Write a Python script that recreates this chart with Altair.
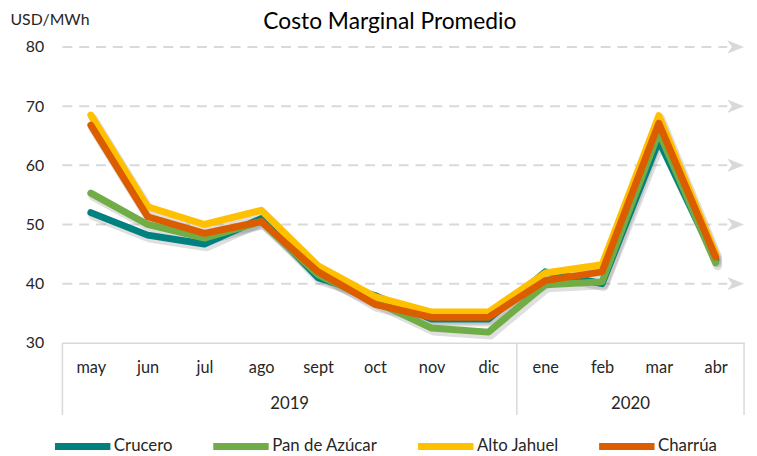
import json
import altair as alt
import pandas as pd

# ---- data ----
months = ["may", "jun", "jul", "ago", "sept", "oct", "nov", "dic", "ene", "feb", "mar", "abr"]
years = ["2019"] * 8 + ["2020"] * 4
series = ["Crucero", "Pan de Azúcar", "Alto Jahuel", "Charrúa"]
colors = ["#00807F", "#70AD47", "#FFC000", "#DC5C00"]

crucero = [52.0, 48.2, 46.7, 51.0, 41.0, 38.0, 34.0, 34.0, 42.0, 40.0, 64.2, 44.0]
pan_de_azucar = [55.3, 50.0, 47.7, 50.5, 41.5, 37.0, 32.5, 31.8, 39.8, 40.3, 65.6, 43.5]
alto_jahuel = [68.5, 53.0, 50.0, 52.4, 43.0, 37.8, 35.2, 35.2, 41.8, 43.2, 68.4, 45.0]
charrua = [66.8, 51.3, 48.5, 50.5, 42.0, 36.5, 34.3, 34.3, 40.5, 42.0, 67.1, 44.5]

y_ticks = [30, 40, 50, 60, 70, 80]
grid_vals = [40, 50, 60, 70, 80]

title_text = "Costo Marginal Promedio"
y_unit = "USD/MWh"

# ---- tables ----
values = {"Crucero": crucero, "Pan de Azúcar": pan_de_azucar,
          "Alto Jahuel": alto_jahuel, "Charrúa": charrua}
rows = []
for s in series:
    for i, m in enumerate(months):
        rows.append({"serie": s, "month": m, "idx": i, "year": years[i], "value": values[s][i]})
df = pd.DataFrame(rows)
mdf = pd.DataFrame({"month": months, "idx": list(range(len(months))), "year": years})
gdf = pd.DataFrame({"v": grid_vals})

FONT = "Lato"
TXT = "#262626"
GRID = "#D9D9D9"
W, H = 689, 299

xscale = alt.Scale(domain=[-0.5, len(months) - 0.5], nice=False, zero=False)
yscale = alt.Scale(domain=[y_ticks[0], y_ticks[-1]], nice=False, zero=False)

xaxis = alt.Axis(values=list(range(len(months))),
                 labelExpr=f"{json.dumps(months)}[datum.value]",
                 grid=False, ticks=False, tickSize=0, domainColor=GRID, domainWidth=1.5,
                 labelPadding=25, labelBaseline="middle", labelFontSize=16.5,
                 labelColor=TXT, labelFont=FONT, title=None, labelFlush=False,
                 labelOverlap=False)
yaxis = alt.Axis(values=y_ticks, grid=False, ticks=False, tickSize=0, domain=False,
                 labelPadding=19, labelFontSize=16, labelColor=TXT, labelFont=FONT,
                 title=y_unit, titleAngle=0, titleAlign="left", titleBaseline="middle",
                 titleX=-53, titleY=-28, titleFontSize=16, titleFontWeight="normal",
                 titleColor=TXT, titleFont=FONT)

grid = alt.Chart(gdf).mark_rule(color=GRID, strokeWidth=2, strokeDash=[10, 7]).encode(
    y=alt.Y("v:Q", scale=yscale, axis=yaxis),
    x=alt.value(0), x2=alt.value(W - 17))

arrow_path = "M 1 0 L -1 -0.8 L -0.45 0 L -1 0.8 Z"
arrows = alt.Chart(gdf).mark_point(shape=arrow_path, filled=True, size=289,
                                   color=GRID, opacity=1).encode(
    y=alt.Y("v:Q", scale=yscale, axis=yaxis), x=alt.value(W - 8.5))

# separators at the start of each year group and at the end of the last one
seps_start = alt.Chart(mdf).transform_aggregate(
    lo="min(idx)", groupby=["year"]
).transform_calculate(edge="datum.lo - 0.5").mark_rule(color=GRID, strokeWidth=1.5).encode(
    x=alt.X("edge:Q", scale=xscale, axis=xaxis),
    y=alt.value(H), y2=alt.value(H + 73))
seps_end = alt.Chart(mdf).transform_aggregate(
    hi="max(idx)"
).transform_calculate(edge="datum.hi + 0.5").mark_rule(color=GRID, strokeWidth=1.5).encode(
    x=alt.X("edge:Q", scale=xscale, axis=xaxis),
    y=alt.value(H), y2=alt.value(H + 73))

year_labels = alt.Chart(mdf).transform_aggregate(
    mid="mean(idx)", groupby=["year"]).mark_text(
    fontSize=17, font=FONT, color=TXT, baseline="middle").encode(
    x=alt.X("mid:Q", scale=xscale, axis=xaxis), y=alt.value(H + 62), text="year:N")

shadow = alt.Chart(df).mark_line(strokeWidth=9, color="#6e6e6e", opacity=0.22,
                                 xOffset=2, yOffset=3, strokeCap="round",
                                 strokeJoin="round").encode(
    x=alt.X("idx:Q", scale=xscale, axis=xaxis),
    y=alt.Y("value:Q", scale=yscale, axis=yaxis),
    detail="serie:N", order="idx:Q")

lines = alt.Chart(df).mark_line(strokeWidth=7, strokeCap="round", strokeJoin="round").encode(
    x=alt.X("idx:Q", scale=xscale, axis=xaxis),
    y=alt.Y("value:Q", scale=yscale, axis=yaxis),
    color=alt.Color("serie:N", scale=alt.Scale(domain=series, range=colors),
                    legend=alt.Legend(orient="none", legendX=-11, legendY=372,
                                      direction="horizontal", title=None,
                                      symbolType="stroke", symbolStrokeWidth=7,
                                      symbolSize=3136, labelFontSize=17, labelFont=FONT,
                                      labelColor=TXT, labelOffset=0, columnPadding=26,
                                      columns=4, padding=0)),
    order="idx:Q")

title = alt.Chart(pd.DataFrame({"t": [title_text]})).mark_text(
    fontSize=23, font=FONT, color="#000000", align="center", baseline="alphabetic").encode(
    text="t:N", x=alt.value(331), y=alt.value(-18))

chart = alt.layer(grid, arrows, seps_start, seps_end, year_labels, shadow, lines, title).properties(
    width=W, height=H,
    padding={"left": 55, "top": 37, "right": 5, "bottom": 112},
    autosize=alt.AutoSizeParams(type="none"),
    background="white",
).configure(font=FONT).configure_view(stroke=None)

chart.save("out.html", embed_options={"renderer": "svg", "actions": False})
